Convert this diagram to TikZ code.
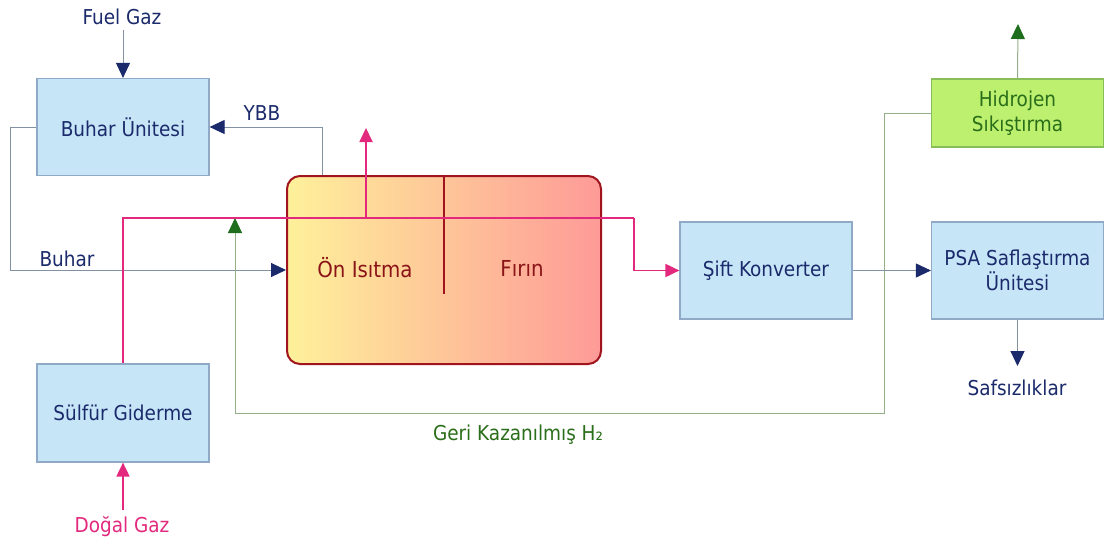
\documentclass[tikz,border=0pt]{standalone}
\usepackage{fontspec}
\setmainfont{DejaVu Sans Condensed}
\usetikzlibrary{arrows.meta}
\definecolor{navy}{HTML}{1B2A6B}
\definecolor{boxfill}{HTML}{C6E6F8}
\definecolor{boxline}{HTML}{8FA9C6}
\definecolor{conn}{HTML}{8392A2}
\definecolor{pinkc}{HTML}{E2297E}
\definecolor{furnline}{HTML}{A0141E}
\definecolor{furnL}{HTML}{FEF19A}
\definecolor{furnR}{HTML}{FE9A98}
\definecolor{hidfill}{HTML}{BCF06E}
\definecolor{hidline}{HTML}{88BE5A}
\definecolor{greentext}{HTML}{2A6E1A}
\definecolor{greentip}{HTML}{1E6E1E}
\definecolor{greenline}{HTML}{94B088}
\definecolor{furntext}{HTML}{8A1418}
\tikzset{
  box/.style={draw=boxline, line width=1.2pt, fill=boxfill, minimum width=172pt, minimum height=97pt, inner sep=0pt, text=navy, align=center},
  hidbox/.style={box, fill=hidfill, draw=hidline, minimum height=68pt, text=greentext},
  lbl/.style={inner sep=0pt, text=navy},
  furnlbl/.style={inner sep=0pt, text=furntext, font=\fontsize{22}{26}\selectfont},
  navyarrow/.style={draw=conn, line width=1pt, -{Triangle[length=15pt,width=14pt,color=navy]}},
  greenarrow/.style={draw=greenline, line width=1pt, -{Triangle[length=15pt,width=14pt,color=greentip]}},
  pinkarrow/.style={draw=pinkc, line width=1.8pt, -{Triangle[length=14pt,width=13pt]}},
  pinkline/.style={draw=pinkc, line width=1.8pt},
  conline/.style={draw=conn, line width=1pt},
  greenconn/.style={draw=greenline, line width=1pt}
}
\begin{document}
\begin{tikzpicture}[x=1pt,y=-1pt, font=\fontsize{20.5}{24.5}\selectfont]
\useasboundingbox[fill=white] (0,0) rectangle (1106,549);
% furnace
\node[draw=furnline, line width=2pt, rounded corners=13pt, left color=furnL, right color=furnR, minimum width=314pt, minimum height=188pt, inner sep=0pt] (furn) at (444,270) {};
\coordinate (div) at (444,294);
\draw[draw=furnline, line width=2pt] (furn.north) -- (div);
\node[furnlbl] (onis) at (365,268) {Ön Isıtma};
\node[furnlbl] (firin) at (522,268) {Fırın};
% boxes
\node[box] (buhar) at (123,127) {Buhar Ünitesi};
\node[box, minimum height=98pt] (sulfur) at (123,413) {Sülfür Giderme};
\node[box] (sift) at (766,270.5) {Şift Konverter};
\node[box] (psa) at (1017.5,270.5) {PSA Saflaştırma\\Ünitesi};
\node[hidbox] (hid) at (1017.5,113) {Hidrojen\\Sıkıştırma};
% labels
\node[lbl] (fuel) at (122,17) {Fuel Gaz};
\node[lbl] (ybb) at (262,113) {YBB};
\node[lbl] (buharlbl) at (67,259) {Buhar};
\node[lbl] (safs) at (1017,388) {Safsızlıklar};
\node[inner sep=0pt, text=pinkc] (dogal) at (122,527) {Doğal Gaz};
\node[inner sep=0pt, text=greentext] (geri) at (518,435) {Geri Kazanılmış H₂};
% coordinates
\coordinate (ybbc) at (322,127);
\coordinate (bl) at (10,270);
\coordinate (pkA) at (634,218);
\coordinate (pkB) at (366,218);
\coordinate (pkT) at (366,128);
\coordinate (gA) at (884,413);
\coordinate (gB) at (235,413);
\coordinate (gT) at (235,218);
\coordinate (hT) at (1018,24);
\coordinate (psaT) at (1017.5,366);
\coordinate (fuelS) at (123,30);
\coordinate (dogN) at (123,510);
% connectors
\draw[navyarrow] (fuelS) -- (buhar.north);
\draw[navyarrow] (furn.north -| ybbc) |- (buhar.east);
\draw[conline] (buhar.west) -| (bl);
\draw[navyarrow] (bl) -- (furn.west);
\draw[greenconn] (hid.west) -| (gA) -- (gB);
\draw[greenarrow] (gB) -- (gT);
\draw[greenarrow] (hid.north) -- (hT);
\draw[pinkline] (sulfur.north) |- (pkA);
\draw[pinkarrow] (pkA) |- (sift.west);
\draw[pinkarrow] (pkB) -- (pkT);
\draw[pinkarrow] (dogN) -- (sulfur.south);
\draw[navyarrow] (sift.east) -- (psa.west);
\draw[navyarrow] (psa.south) -- (psaT);
\end{tikzpicture}
\end{document}
